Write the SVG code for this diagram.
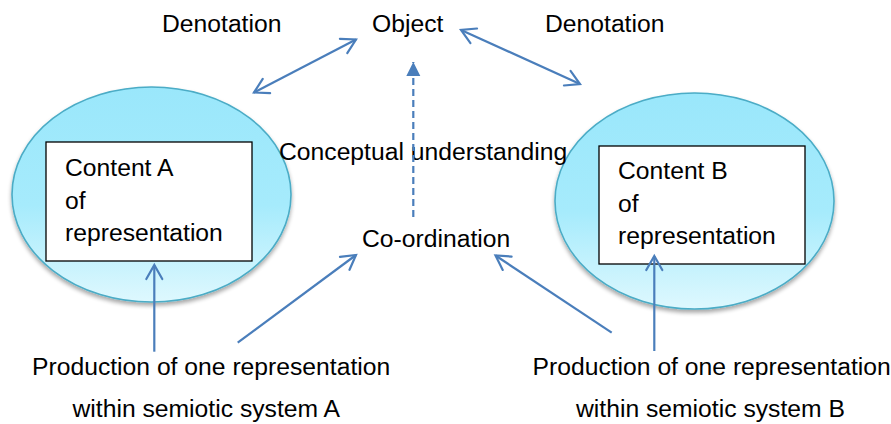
<svg xmlns="http://www.w3.org/2000/svg" width="891" height="424" viewBox="0 0 891 424">
<defs>
  <linearGradient id="ellFill" x1="0" y1="0" x2="0" y2="1">
    <stop offset="0" stop-color="#9ae7fb"/>
    <stop offset="0.55" stop-color="#a6ebfc"/>
    <stop offset="1" stop-color="#def8fe"/>
  </linearGradient>
  <filter id="shadow" x="-10%" y="-10%" width="120%" height="125%">
    <feGaussianBlur in="SourceAlpha" stdDeviation="2"/>
    <feOffset dx="0" dy="3" result="b"/>
    <feComponentTransfer><feFuncA type="linear" slope="0.35"/></feComponentTransfer>
    <feMerge><feMergeNode/><feMergeNode in="SourceGraphic"/></feMerge>
  </filter>
  <marker id="open" markerUnits="userSpaceOnUse" markerWidth="30" markerHeight="30" refX="0" refY="0" viewBox="-20 -15 30 30" orient="auto-start-reverse" overflow="visible">
    <path d="M -14 -8 L 0 0 L -14 8" fill="none" stroke="#4a7ebb" stroke-width="2.2" stroke-linecap="round" stroke-linejoin="miter"/>
  </marker>
  <marker id="solid" markerUnits="userSpaceOnUse" markerWidth="30" markerHeight="30" refX="0" refY="0" viewBox="-20 -15 30 30" orient="auto" overflow="visible">
    <path d="M -14 -7 L 0 0 L -14 7 Z" fill="#4a7ebb"/>
  </marker>
</defs>
<style>
  text { font-family: "Liberation Sans", Arial, sans-serif; font-size: 24.7px; fill: #000; }
  .ell { fill: url(#ellFill); stroke: #4bacc6; stroke-width: 1.6; }
  .box { fill: #fff; stroke: #000; stroke-width: 1.3; }
  .conn { fill: none; stroke: #4a7ebb; stroke-width: 2.2; }
  .dash { stroke-dasharray: 7 4; }
</style>
<rect width="891" height="424" fill="#fff"/>

<g id="contentA">
  <ellipse class="ell" cx="151.5" cy="194.5" rx="139.5" ry="107.5" filter="url(#shadow)"/>
  <rect class="box" x="46" y="142" width="206" height="119"/>
  <text x="65" y="176">Content A</text>
  <text x="65" y="208.5">of</text>
  <text x="65" y="241">representation</text>
</g>

<g id="contentB">
  <ellipse class="ell" cx="694.5" cy="201" rx="139.5" ry="108" filter="url(#shadow)"/>
  <rect class="box" x="599" y="146" width="206" height="118"/>
  <text x="618" y="179">Content B</text>
  <text x="618" y="211.5">of</text>
  <text x="618" y="244">representation</text>
</g>

<g id="object"><text x="372" y="31.5">Object</text></g>
<g id="denotationA"><text x="162" y="32">Denotation</text></g>
<g id="denotationB"><text x="545" y="32">Denotation</text></g>
<g id="conceptual"><text x="279" y="160">Conceptual understanding</text></g>
<g id="coordination"><text x="362" y="246.5">Co-ordination</text></g>
<g id="productionA">
  <text x="32" y="375">Production of one representation</text>
  <text x="72.5" y="416.5">within semiotic system A</text>
</g>
<g id="productionB">
  <text x="532.5" y="375">Production of one representation</text>
  <text x="576" y="416.5">within semiotic system B</text>
</g>

<g id="connectors">
  <line class="conn" x1="254" y1="92.5" x2="356" y2="39.5" marker-start="url(#open)" marker-end="url(#open)"/>
  <line class="conn" x1="461" y1="30" x2="580" y2="84" marker-start="url(#open)" marker-end="url(#open)"/>
  <line class="conn dash" x1="413.3" y1="217" x2="413.3" y2="62" marker-end="url(#solid)"/>
  <line class="conn" x1="237.7" y1="342.7" x2="356" y2="255" marker-end="url(#open)"/>
  <line class="conn" x1="611.7" y1="332.7" x2="495.5" y2="255.5" marker-end="url(#open)"/>
  <line class="conn" x1="154.3" y1="351.7" x2="154.3" y2="265" marker-end="url(#open)"/>
  <line class="conn" x1="654.3" y1="351" x2="654.3" y2="256" marker-end="url(#open)"/>
</g>
</svg>
